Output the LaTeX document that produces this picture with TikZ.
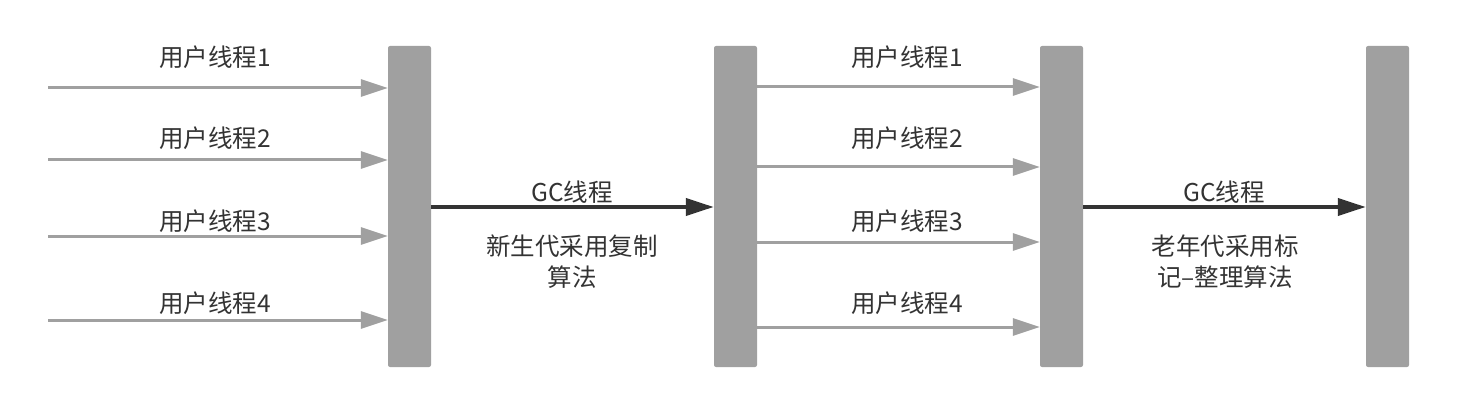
\documentclass[tikz,border=0pt]{standalone}
\usepackage{fontspec}
\setmainfont{Noto Sans CJK SC}
\usetikzlibrary{arrows.meta, positioning, calc}
\definecolor{bargray}{HTML}{A0A0A0}
\definecolor{gcdark}{HTML}{333333}
\definecolor{txtgray}{HTML}{333333}

\begin{document}
\begin{tikzpicture}[
    x=1pt, y=-1pt,
    bar/.style={rectangle, rounded corners=2pt, fill=bargray, inner sep=0pt, minimum width=43pt, minimum height=321pt},
    lbl/.style={font=\fontsize{24.5}{31}\selectfont, text=txtgray, align=center, inner sep=0pt},
    uarrow/.style={-{Triangle[length=27pt, width=17pt]}, line width=3pt, color=bargray},
    gcarrow/.style={-{Triangle[length=28pt, width=17pt]}, line width=4pt, color=gcdark}
]
\useasboundingbox (0,0) rectangle (1466,414);

\node[bar] (bar1) at (409.5,206.5) {};
\node[bar] (bar2) at (735.5,206.5) {};
\node[bar] (bar3) at (1061.5,206.5) {};
\node[bar] (bar4) at (1387.5,206.5) {};

% user threads into the first bar
\foreach \i/\y/\ly in {1/88/57, 2/160/138, 3/236/221, 4/320/303} {
    \coordinate (in\i) at (48,\y);
    \node[lbl] (ulbl\i) at (215,\ly) {用户线程\i};
    \draw[uarrow] (in\i) -- (in\i -| bar1.west);
}

% user threads between second and third bar
\foreach \i/\y/\ly in {1/87/57, 2/167/138, 3/242/221, 4/327/303} {
    \coordinate (mid\i) at (757,\y);
    \node[lbl] (mlbl\i) at (907,\ly) {用户线程\i};
    \draw[uarrow] (mid\i) -- (mid\i -| bar3.west);
}

% GC threads
\coordinate (gc1) at (431,207);
\coordinate (gc2) at (1083,207);
\draw[gcarrow] (gc1) -- (gc1 -| bar2.west);
\draw[gcarrow] (gc2) -- (gc2 -| bar4.west);

\node[lbl] (gclbl1) at (572,192) {GC线程};
\node[lbl] (young) at (572,262) {新生代采用复制\\算法};
\node[lbl] (gclbl2) at (1224,192) {GC线程};
\node[lbl] (old) at (1225,262) {老年代采用标\\记–整理算法};

\end{tikzpicture}
\end{document}
